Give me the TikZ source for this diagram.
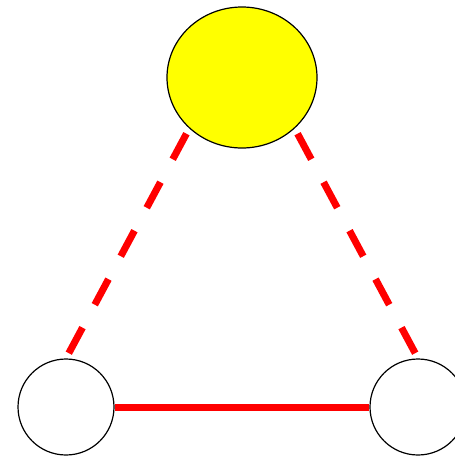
\documentclass[tikz,border=0pt]{standalone}
\usepackage{tikz}
\usetikzlibrary{shapes.geometric}
\definecolor{rootfill}{RGB}{255, 255, 0}
\definecolor{linkcolor}{RGB}{255, 0, 0}
\tikzset{
rootnode/.style={
  ellipse,
  draw=black,
  line width=1.2pt,
  fill=rootfill,
  minimum width=150pt,
  minimum height=141pt,
  inner sep=0pt
},
leafnode/.style={
  circle,
  draw=black,
  line width=1.2pt,
  fill=white,
  minimum size=96pt,
  inner sep=0pt
},
solidlink/.style={
  draw=linkcolor,
  line width=7pt
},
dashedlink/.style={
  solidlink,
  dash pattern=on 29pt off 26pt,
  shorten <=6pt
}
}
\begin{document}
\begin{tikzpicture}[x=1pt, y=-1pt]
  \useasboundingbox (0,0) rectangle (455,456);
  % Nodes
  \node[rootnode] (top) at (242,77.5) {};
  \node[leafnode] (left) at (66,407) {};
  \node[leafnode] (right) at (418,407) {};

  % Links
  \draw[dashedlink] (top.224) -- (left.north);
  \draw[dashedlink] (top.-44) -- (right.north);
  \draw[solidlink] (left) -- (right);
\end{tikzpicture}
\end{document}
